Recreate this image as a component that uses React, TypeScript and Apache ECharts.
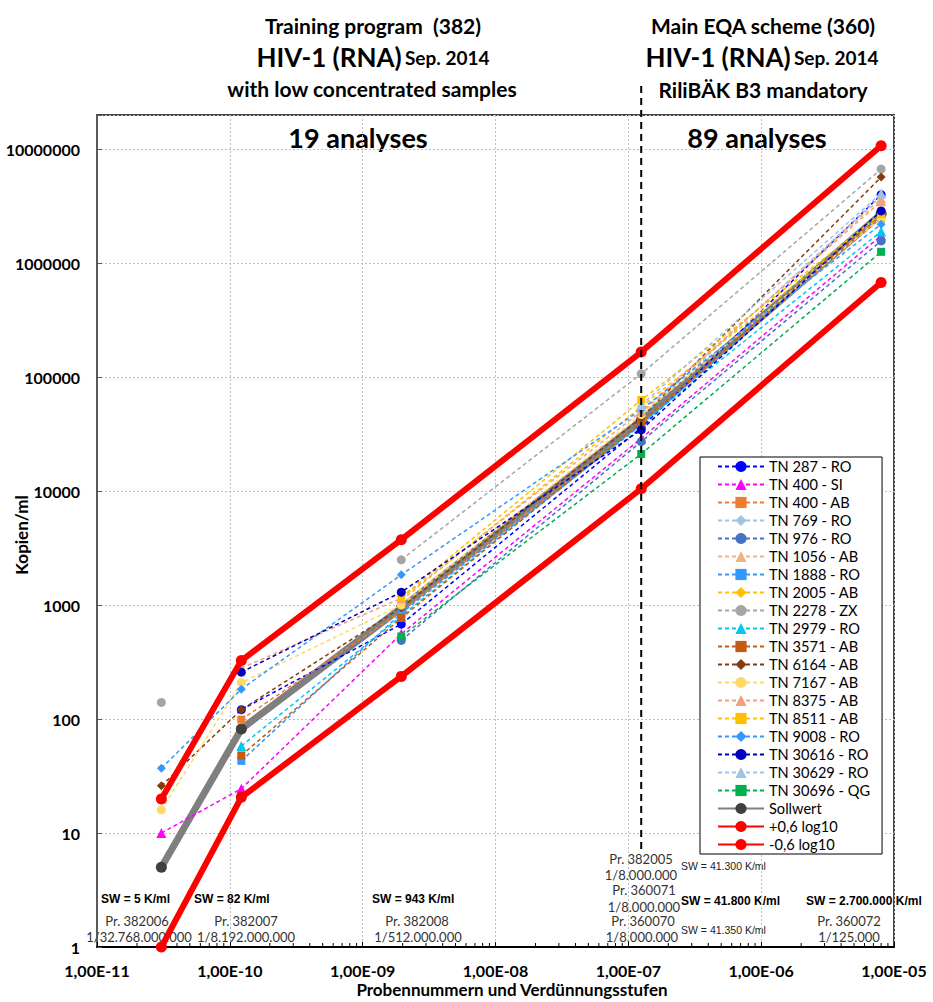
import React, { useEffect, useRef } from 'react';
import * as echarts from 'echarts';

const FONT = 'Lato, "Open Sans", sans-serif';
const ARIAL = '"Liberation Sans", Arial, sans-serif';

// Dilution steps of the five samples (x axis)
const dilutionSteps = [1 / 32768000000, 1 / 8192000000, 1 / 512000000, 1 / 8000000, 1 / 125000];

// Reported copies/ml per participant, one value per dilution step (null = no result)
const tn287Ro = [null, 121, 680, 36000, 4000000];
const tn400Si = [10, 24.5, 560, 29000, 1750000];
const tn400Ab = [null, 99, 880, 40000, 2500000];
const tn769Ro = [null, null, null, 45000, 3900000];
const tn976Ro = [null, null, 490, 27200, 1570000];
const tn1056Ab = [null, null, null, 48000, 3700000];
const tn1888Ro = [null, 43, 850, 38000, 2600000];
const tn2005Ab = [null, null, 1100, 55000, 2600000];
const tn2278Zx = [140, null, 2500, 107000, 6700000];
const tn2979Ro = [null, 58, 800, 39000, 1900000];
const tn3571Ab = [null, 48, 770, 40000, 2700000];
const tn6164Ab = [26, 121, 950, 44000, 5700000];
const tn7167Ab = [16, 209, 1000, 47000, 2500000];
const tn8375Ab = [null, 280, 1150, 50000, 3500000];
const tn8511Ab = [null, null, 1175, 63000, 2700000];
const tn9008Ro = [37, 183, 1845, 52000, 2200000];
const tn30616Ro = [null, 258, 1300, 34500, 2880000];
const tn30629Ro = [null, null, null, 57000, 4100000];
const tn30696Qg = [null, null, 531, 21200, 1260000];

// Target values and the +/-0.6 log10 limits
const sollwert = [5, 82, 943, 41800, 2700000];
const upperLimit = [19.9, 326, 3754, 166400, 10750000];
const lowerLimit = [1, 20.6, 237, 10500, 678000];

const xTickLabels = ['1,00E-11', '1,00E-10', '1,00E-09', '1,00E-08', '1,00E-07', '1,00E-06', '1,00E-05'];
const yTickLabels = ['1', '10', '100', '1000', '10000', '100000', '1000000', '10000000'];

const participants = [
  { name: 'TN 287 - RO', values: tn287Ro, color: '#0000FF', symbol: 'circle' },
  { name: 'TN 400 - SI', values: tn400Si, color: '#FF00FF', symbol: 'triangle' },
  { name: 'TN 400 - AB', values: tn400Ab, color: '#ED7D31', symbol: 'rect' },
  { name: 'TN 769 - RO', values: tn769Ro, color: '#9DC3E6', symbol: 'diamond' },
  { name: 'TN 976 - RO', values: tn976Ro, color: '#4472C4', symbol: 'circle' },
  { name: 'TN 1056 - AB', values: tn1056Ab, color: '#F4B183', symbol: 'triangle' },
  { name: 'TN 1888 - RO', values: tn1888Ro, color: '#3399FF', symbol: 'rect' },
  { name: 'TN 2005 - AB', values: tn2005Ab, color: '#FFC000', symbol: 'diamond' },
  { name: 'TN 2278 - ZX', values: tn2278Zx, color: '#A5A5A5', symbol: 'circle' },
  { name: 'TN 2979 - RO', values: tn2979Ro, color: '#00C8F0', symbol: 'triangle' },
  { name: 'TN 3571 - AB', values: tn3571Ab, color: '#C55A11', symbol: 'rect' },
  { name: 'TN 6164 - AB', values: tn6164Ab, color: '#843C0C', symbol: 'diamond' },
  { name: 'TN 7167 - AB', values: tn7167Ab, color: '#FFD966', symbol: 'circle' },
  { name: 'TN 8375 - AB', values: tn8375Ab, color: '#F4A07A', symbol: 'triangle' },
  { name: 'TN 8511 - AB', values: tn8511Ab, color: '#FFC000', symbol: 'rect' },
  { name: 'TN 9008 - RO', values: tn9008Ro, color: '#3399FF', symbol: 'diamond' },
  { name: 'TN 30616 - RO', values: tn30616Ro, color: '#0000C0', symbol: 'circle' },
  { name: 'TN 30629 - RO', values: tn30629Ro, color: '#9DC3E6', symbol: 'triangle' },
  { name: 'TN 30696 - QG', values: tn30696Qg, color: '#00B050', symbol: 'rect' },
];

const symbolSizes: Record<string, number> = { circle: 9, triangle: 10, rect: 8, diamond: 9 };

const toPoints = (values: (number | null)[]) =>
  dilutionSteps.map((x, i) => [x, values[i] == null ? '-' : values[i]]);

const decadeIndex = (v: number) => Math.round(Math.log10(v));
const isDecade = (v: number) => Math.abs(Math.log10(v) - decadeIndex(v)) < 1e-6;

function text(x: number, y: number, t: string, opts: any = {}) {
  return {
    type: 'text',
    silent: true,
    x,
    y,
    rotation: opts.rotation || 0,
    style: {
      text: t,
      fill: opts.fill || '#000',
      font: opts.font || `bold 21px ${FONT}`,
      align: opts.align || 'center',
      verticalAlign: 'middle',
    },
  };
}

function hivTitle(x: number, y: number) {
  return {
    type: 'text',
    silent: true,
    x,
    y,
    style: {
      text: '{a|HIV-1 (RNA)} {b|Sep. 2014}',
      align: 'center',
      verticalAlign: 'middle',
      rich: {
        a: { fontSize: 26, fontWeight: 'bold', fontFamily: FONT, fill: '#000' },
        b: { fontSize: 19, fontWeight: 'bold', fontFamily: FONT, fill: '#000' },
      },
    },
  };
}

export default function App() {
  const ref = useRef<HTMLDivElement>(null);

  useEffect(() => {
    if (!ref.current) return;
    const chart = echarts.init(ref.current, null, { renderer: 'svg' });

    const swBold = `bold 12px ${ARIAL}`;
    const swSmall = `10.5px ${ARIAL}`;
    const prFont = `13px ${FONT}`;
    const prColor = '#333';

    const annotations = [
      text(373, 25, 'Training program  (382)'),
      hivTitle(373, 57),
      text(372, 88, 'with low concentrated samples'),
      text(763, 25, 'Main EQA scheme (360)'),
      hivTitle(762, 57),
      text(763, 89, 'RiliBÄK B3 mandatory'),
      text(358, 137, '19 analyses', { font: `bold 27px ${FONT}` }),
      text(757, 137, '89 analyses', { font: `bold 27px ${FONT}` }),
      text(101, 899, 'SW = 5 K/ml', { font: swBold, align: 'left' }),
      text(194, 899, 'SW = 82 K/ml', { font: swBold, align: 'left' }),
      text(372, 899, 'SW = 943 K/ml', { font: swBold, align: 'left' }),
      text(681, 901, 'SW = 41.800 K/ml', { font: swBold, align: 'left' }),
      text(806, 901, 'SW = 2.700.000 K/ml', { font: swBold, align: 'left' }),
      text(681, 866, 'SW = 41.300 K/ml', { font: swSmall, align: 'left', fill: '#222' }),
      text(681, 930, 'SW = 41.350 K/ml', { font: swSmall, align: 'left', fill: '#222' }),
      text(137, 921, 'Pr. 382006', { font: prFont, fill: prColor }),
      text(139, 937, '1/32.768.000.000', { font: prFont, fill: prColor }),
      text(246, 921, 'Pr. 382007', { font: prFont, fill: prColor }),
      text(246, 937, '1/8.192.000.000', { font: prFont, fill: prColor }),
      text(417, 921, 'Pr. 382008', { font: prFont, fill: prColor }),
      text(418, 937, '1/512.000.000', { font: prFont, fill: prColor }),
      text(641, 859, 'Pr. 382005', { font: prFont, fill: prColor }),
      text(641, 875, '1/8.000.000', { font: prFont, fill: prColor }),
      text(644, 890, 'Pr. 360071', { font: prFont, fill: prColor }),
      text(644, 907, '1/8.000.000', { font: prFont, fill: prColor }),
      text(643, 921, 'Pr. 360070', { font: prFont, fill: prColor }),
      text(642, 937, '1/8.000.000', { font: prFont, fill: prColor }),
      text(849, 921, 'Pr. 360072', { font: prFont, fill: prColor }),
      text(849, 937, '1/125.000', { font: prFont, fill: prColor }),
      text(512, 989, 'Probennummern und Verdünnungsstufen', { font: `bold 17px ${FONT}` }),
      text(21, 535, 'Kopien/ml', { font: `bold 17px ${FONT}`, rotation: Math.PI / 2 }),
    ];

    const participantSeries = participants.map((p) => ({
      type: 'line',
      name: p.name,
      data: toPoints(p.values),
      symbol: p.symbol,
      symbolSize: symbolSizes[p.symbol],
      connectNulls: false,
      lineStyle: { color: p.color, width: 1.5, type: [4, 3] },
      itemStyle: { color: p.color },
      z: 3,
    }));

    const option: any = {
      animation: false,
      backgroundColor: '#fff',
      grid: {
        left: 97,
        right: 39,
        top: 115,
        bottom: 55,
        show: true,
        borderColor: '#404040',
        borderWidth: 2,
        containLabel: false,
        outerBoundsMode: 'none',
      },
      legend: {
        orient: 'vertical',
        left: 700,
        top: 457,
        padding: [2, 12, 2, 17],
        itemGap: 3,
        itemWidth: 46,
        itemHeight: 14,
        backgroundColor: '#fff',
        borderColor: '#000',
        borderWidth: 1,
        borderRadius: 0,
        selectedMode: false,
        textStyle: { fontFamily: FONT, fontSize: 14.6, color: '#000', lineHeight: 14 },
      },
      xAxis: {
        type: 'log',
        logBase: 10,
        min: 1e-11,
        max: 1e-5,
        splitNumber: 6,
        axisLine: { show: true, lineStyle: { color: '#000', width: 2 } },
        axisTick: { show: true, inside: true, length: 5, lineStyle: { color: '#000' } },
        axisLabel: {
          margin: 15,
          fontFamily: FONT,
          fontWeight: 'bold',
          fontSize: 16,
          color: '#000',
          formatter: (v: number) => (isDecade(v) ? xTickLabels[decadeIndex(v) + 11] ?? '' : ''),
        },
        splitLine: { show: true, lineStyle: { color: '#BFBFBF', type: [2, 2], width: 1 } },
      },
      yAxis: {
        type: 'log',
        logBase: 10,
        min: 1,
        max: 20000000,
        splitNumber: 8,
        axisLine: { show: true, lineStyle: { color: '#595959', width: 2 } },
        axisTick: { show: true, inside: true, length: 5, lineStyle: { color: '#595959' } },
        axisLabel: {
          margin: 17,
          fontFamily: FONT,
          fontWeight: 'bold',
          fontSize: 16,
          color: '#000',
          formatter: (v: number) => (isDecade(v) ? yTickLabels[decadeIndex(v)] ?? '' : ''),
        },
        splitLine: { show: true, lineStyle: { color: '#BFBFBF', type: [2, 2], width: 1 } },
      },
      series: [
        ...participantSeries,
        {
          type: 'line',
          name: 'Sollwert',
          data: toPoints(sollwert),
          symbol: 'circle',
          symbolSize: 11,
          lineStyle: { color: '#7F7F7F', width: 7 },
          itemStyle: { color: '#404040' },
          z: 2,
        },
        {
          type: 'line',
          name: '+0,6 log10',
          data: toPoints(upperLimit),
          symbol: 'circle',
          symbolSize: 11,
          lineStyle: { color: '#FF0000', width: 6 },
          itemStyle: { color: '#FF0000' },
          z: 4,
        },
        {
          type: 'line',
          name: '-0,6 log10',
          data: toPoints(lowerLimit),
          symbol: 'circle',
          symbolSize: 11,
          lineStyle: { color: '#FF0000', width: 6 },
          itemStyle: { color: '#FF0000' },
          z: 4,
        },
      ],
      graphic: annotations,
    };

    chart.setOption(option);

    // Divider between training program and main scheme, plus minor ticks on the x axis
    const extra: any[] = [];
    const divX = chart.convertToPixel({ xAxisIndex: 0 }, dilutionSteps[3]) as number;
    const bottomY = chart.convertToPixel({ yAxisIndex: 0 }, 7) as number;
    const topY = (chart.convertToPixel({ yAxisIndex: 0 }, 20000000) as number) - 29;
    extra.push({
      id: 'divider',
      type: 'line',
      silent: true,
      z: 10,
      shape: { x1: divX, y1: topY, x2: divX, y2: bottomY },
      style: { stroke: '#000', lineWidth: 2, lineDash: [7, 5] },
    });
    const axisY = chart.convertToPixel({ yAxisIndex: 0 }, 1) as number;
    for (let e = -11; e < -5; e++) {
      for (let m = 2; m <= 9; m++) {
        const px = chart.convertToPixel({ xAxisIndex: 0 }, m * Math.pow(10, e)) as number;
        extra.push({
          id: `minor_${e}_${m}`,
          type: 'line',
          silent: true,
          shape: { x1: px, y1: axisY, x2: px, y2: axisY - 4 },
          style: { stroke: '#000', lineWidth: 1 },
        });
      }
    }
    chart.setOption({ graphic: [...annotations, ...extra] });

    return () => chart.dispose();
  }, []);

  return (
    <div
      ref={ref}
      style={{ position: 'fixed', left: 0, top: 0, width: 933, height: 1002, background: '#fff' }}
    />
  );
}
